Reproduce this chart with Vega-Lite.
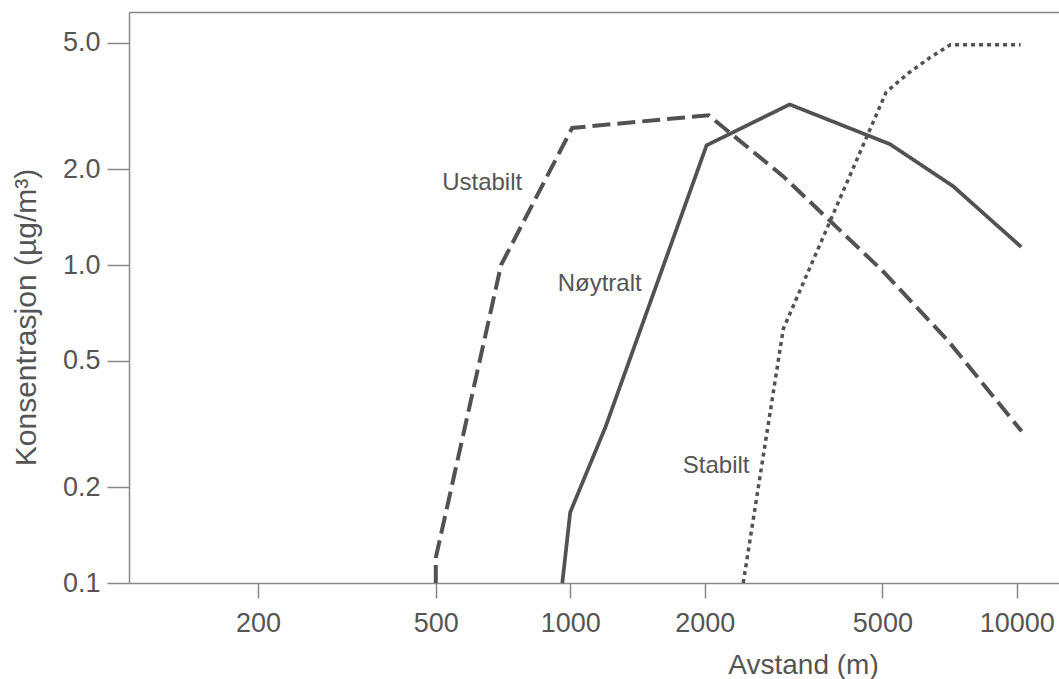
{
  "$schema": "https://vega.github.io/schema/vega-lite/v6.json",
  "width": 930,
  "height": 571,
  "autosize": {"type": "none"},
  "padding": {"left": 129, "top": 12, "right": 0, "bottom": 96},
  "background": "white",
  "config": {"view": {"stroke": null}, "font": "Liberation Sans"},
  "datasets": {
    "curves": [
      {"stabilitet": "Ustabilt", "i": 1, "avstand": 500, "konsentrasjon": 0.1},
      {"stabilitet": "Ustabilt", "i": 2, "avstand": 500, "konsentrasjon": 0.12},
      {"stabilitet": "Ustabilt", "i": 3, "avstand": 700, "konsentrasjon": 1.0},
      {"stabilitet": "Ustabilt", "i": 4, "avstand": 1010, "konsentrasjon": 2.7},
      {"stabilitet": "Ustabilt", "i": 5, "avstand": 2040, "konsentrasjon": 2.96},
      {"stabilitet": "Ustabilt", "i": 6, "avstand": 3000, "konsentrasjon": 1.9},
      {"stabilitet": "Ustabilt", "i": 7, "avstand": 5000, "konsentrasjon": 0.96},
      {"stabilitet": "Ustabilt", "i": 8, "avstand": 7000, "konsentrasjon": 0.58},
      {"stabilitet": "Ustabilt", "i": 9, "avstand": 10250, "konsentrasjon": 0.3},
      {"stabilitet": "Nøytralt", "i": 1, "avstand": 960, "konsentrasjon": 0.1},
      {"stabilitet": "Nøytralt", "i": 2, "avstand": 1000, "konsentrasjon": 0.167},
      {"stabilitet": "Nøytralt", "i": 3, "avstand": 1200, "konsentrasjon": 0.31},
      {"stabilitet": "Nøytralt", "i": 4, "avstand": 2020, "konsentrasjon": 2.38},
      {"stabilitet": "Nøytralt", "i": 5, "avstand": 3100, "konsentrasjon": 3.2},
      {"stabilitet": "Nøytralt", "i": 6, "avstand": 5200, "konsentrasjon": 2.4},
      {"stabilitet": "Nøytralt", "i": 7, "avstand": 7200, "konsentrasjon": 1.77},
      {"stabilitet": "Nøytralt", "i": 8, "avstand": 10230, "konsentrasjon": 1.14},
      {"stabilitet": "Stabilt", "i": 1, "avstand": 2440, "konsentrasjon": 0.1},
      {"stabilitet": "Stabilt", "i": 2, "avstand": 3000, "konsentrasjon": 0.63},
      {"stabilitet": "Stabilt", "i": 3, "avstand": 5100, "konsentrasjon": 3.5},
      {"stabilitet": "Stabilt", "i": 4, "avstand": 5700, "konsentrasjon": 4.0},
      {"stabilitet": "Stabilt", "i": 5, "avstand": 6400, "konsentrasjon": 4.5},
      {"stabilitet": "Stabilt", "i": 6, "avstand": 7100, "konsentrasjon": 4.93},
      {"stabilitet": "Stabilt", "i": 7, "avstand": 10200, "konsentrasjon": 4.93}
    ],
    "labels": [
      {"tekst": "Ustabilt", "avstand": 635, "konsentrasjon": 1.72},
      {"tekst": "Nøytralt", "avstand": 1164, "konsentrasjon": 0.83},
      {"tekst": "Stabilt", "avstand": 2122, "konsentrasjon": 0.2225}
    ]
  },
  "layer": [
    {
      "data": {"name": "curves"},
      "mark": {"type": "line", "color": "#525252", "strokeCap": "butt", "strokeJoin": "miter"},
      "encoding": {
        "x": {
          "field": "avstand", "type": "quantitative",
          "scale": {"type": "log", "domain": [102.8, 12430], "nice": false},
          "axis": {
            "orient": "bottom",
            "values": [200, 500, 1000, 2000, 5000, 10000],
            "format": "d",
            "grid": false,
            "domainColor": "#888888", "domainWidth": 1.5,
            "tickColor": "#888888", "tickWidth": 1.5, "tickSize": 15,
            "labelFontSize": 27, "labelColor": "#555555", "labelPadding": 12,
            "labelFlush": false, "labelOverlap": false,
            "title": "Avstand (m)",
            "titleFontSize": 28, "titleFontWeight": "normal", "titleColor": "#555555",
            "titleX": 674, "titleY": 90, "titleBaseline": "alphabetic", "titleAlign": "center"
          }
        },
        "y": {
          "field": "konsentrasjon", "type": "quantitative",
          "scale": {"type": "log", "domain": [0.1, 6.25], "nice": false},
          "axis": {
            "values": [0.1, 0.2, 0.5, 1, 2, 5],
            "format": ".1f",
            "grid": false,
            "domainColor": "#888888", "domainWidth": 1.5,
            "tickColor": "#888888", "tickWidth": 1.5, "tickSize": 22,
            "labelFontSize": 27, "labelColor": "#555555", "labelPadding": 7,
            "labelFlush": false, "labelOverlap": false,
            "title": "Konsentrasjon (µg/m³)",
            "titleFontSize": 30, "titleFontWeight": "normal", "titleColor": "#555555",
            "titleX": -94, "titleY": 305, "titleAngle": 270,
            "titleBaseline": "alphabetic", "titleAlign": "center"
          }
        },
        "detail": {"field": "stabilitet", "type": "nominal"},
        "order": {"field": "i", "type": "quantitative"},
        "strokeDash": {
          "field": "stabilitet", "type": "nominal",
          "scale": {"domain": ["Ustabilt", "Nøytralt", "Stabilt"], "range": [[18, 7], [1, 0], [4, 4]]},
          "legend": null
        },
        "strokeWidth": {
          "field": "stabilitet", "type": "nominal",
          "scale": {"domain": ["Ustabilt", "Nøytralt", "Stabilt"], "range": [4, 3.5, 4.5]},
          "legend": null
        }
      }
    },
    {
      "data": {"name": "labels"},
      "mark": {"type": "text", "fontSize": 24, "color": "#555555", "align": "center", "baseline": "alphabetic", "font": "Liberation Sans"},
      "encoding": {
        "x": {
          "field": "avstand", "type": "quantitative",
          "axis": {"orient": "top", "domain": true, "ticks": false, "labels": false, "grid": false, "title": null, "domainColor": "#888888", "domainWidth": 1.5}
        },
        "y": {"field": "konsentrasjon", "type": "quantitative"},
        "text": {"field": "tekst", "type": "nominal"}
      }
    }
  ],
  "resolve": {"axis": {"x": "independent"}}
}
